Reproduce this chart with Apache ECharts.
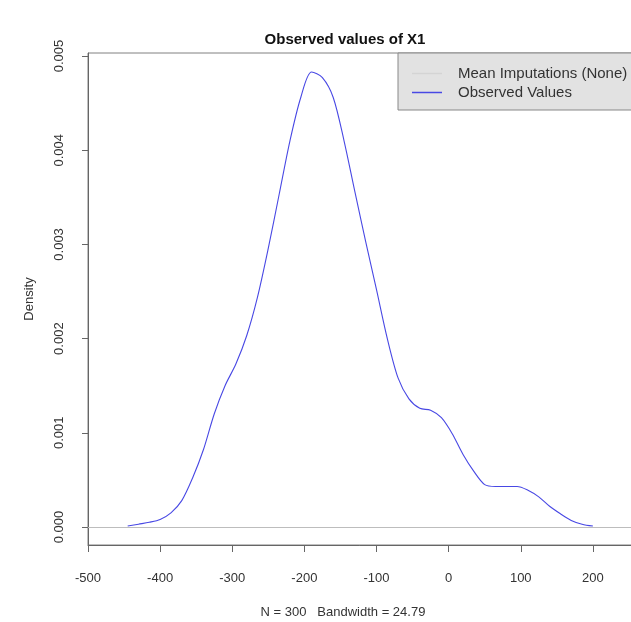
<!DOCTYPE html>
<html>
<head>
<meta charset="utf-8">
<script src="https://cdn.jsdelivr.net/npm/echarts@6/dist/echarts.min.js"></script>
<style>
html,body{margin:0;padding:0;background:#fff;}
#chart{width:631px;height:622px;}
</style>
</head>
<body>
<div id="chart"></div>
<script>
// Density curve of observed values (x, density)
var xValues = [-445, -430, -415, -400, -385, -370, -355, -340, -325, -310, -295, -280, -265, -250, -235, -220, -205, -190, -175, -160, -145, -130, -115, -100, -85, -70, -55, -40, -25, -10, 5, 20, 35, 50, 65, 80, 95, 110, 125, 140, 155, 170, 185, 200];
var densityValues = [0.00001, 0.00003, 0.00005, 0.00008, 0.00015, 0.00028, 0.00052, 0.00082, 0.00120, 0.00150, 0.00173, 0.00203, 0.00244, 0.00296, 0.00353, 0.00410, 0.00456, 0.00483, 0.00477, 0.00456, 0.00410, 0.00356, 0.00303, 0.00252, 0.00200, 0.00158, 0.00136, 0.00126, 0.00124, 0.00116, 0.00099, 0.00077, 0.00059, 0.00045, 0.00043, 0.00043, 0.00043, 0.00039, 0.00032, 0.00022, 0.00014, 0.00007, 0.00003, 0.00001];
var yTicks = [0, 0.001, 0.002, 0.003, 0.004, 0.005];
var yTickLabels = ['0.000', '0.001', '0.002', '0.003', '0.004', '0.005'];
var seriesNames = ['Mean Imputations (None)', 'Observed Values'];
var titleText = 'Observed values of X1';
var subText = 'N = 300   Bandwidth = 24.79';

var FONT = "'Liberation Sans', Arial, sans-serif";
var chart = echarts.init(document.getElementById('chart'), null, {renderer: 'canvas'});
var obsData = xValues.map(function (x, i) { return [x, densityValues[i]]; });

chart.setOption({
  animation: false,
  backgroundColor: '#ffffff',
  title: [
    {text: titleText, left: 340, top: 27, textAlign: 'center',
     textStyle: {fontFamily: FONT, fontSize: 15, fontWeight: 'bold', color: '#111'}},
    {text: subText, left: 338, top: 601, textAlign: 'center',
     textStyle: {fontFamily: FONT, fontSize: 13, fontWeight: 'normal', color: '#333'}}
  ],
  grid: {left: 88, top: 53, right: -34, bottom: 622 - 545, show: true,
         outerBoundsMode: 'none', containLabel: false,
         borderColor: '#808080', borderWidth: 1, backgroundColor: 'transparent'},
  legend: {
    orient: 'vertical', left: 398, top: 53,
    data: seriesNames, icon: 'rect',
    backgroundColor: '#e2e2e2', borderColor: '#888', borderWidth: 1, borderRadius: 0,
    padding: [13, 80, 10, 14], itemWidth: 30, itemHeight: 1.5, itemGap: 4,
    textStyle: {fontFamily: FONT, fontSize: 15, color: '#333', padding: [0, 0, 0, 11]},
    selectedMode: false
  },
  xAxis: {
    type: 'value', min: -500, max: 300, interval: 100,
    axisLine: {show: true, onZero: false, lineStyle: {color: '#666'}},
    axisTick: {show: true, length: 7, lineStyle: {color: '#666'}},
    axisLabel: {fontFamily: FONT, fontSize: 13, color: '#333', margin: 27},
    splitLine: {show: false}
  },
  yAxis: {
    type: 'value', min: -0.000191, max: 0.005032,
    name: 'Density', nameLocation: 'middle', nameGap: 52, nameRotate: 90,
    nameTextStyle: {fontFamily: FONT, fontSize: 13, color: '#333'},
    axisLine: {show: true, onZero: false, lineStyle: {color: '#666'}},
    axisTick: {show: true, length: 6, lineStyle: {color: '#666'}, customValues: yTicks},
    axisLabel: {fontFamily: FONT, fontSize: 13, color: '#333', rotate: 90, margin: 22,
                customValues: yTicks,
                formatter: function (v) { var i = yTicks.indexOf(v); return i >= 0 ? yTickLabels[i] : ''; }},
    splitLine: {show: false}
  },
  series: [
    {name: seriesNames[0], type: 'line', data: [], symbol: 'none',
     lineStyle: {color: '#d4d4d4', width: 1}, itemStyle: {color: '#d4d4d4'}},
    {name: seriesNames[1], type: 'line', data: obsData, symbol: 'none', smooth: 0.3,
     lineStyle: {color: '#4848e4', width: 1.1}, itemStyle: {color: '#4848e4'},
     markLine: {silent: true, symbol: 'none', label: {show: false},
                lineStyle: {color: '#bdbdbd', type: 'solid', width: 1},
                data: [{yAxis: 0}]}}
  ]
});
</script>
</body>
</html>
